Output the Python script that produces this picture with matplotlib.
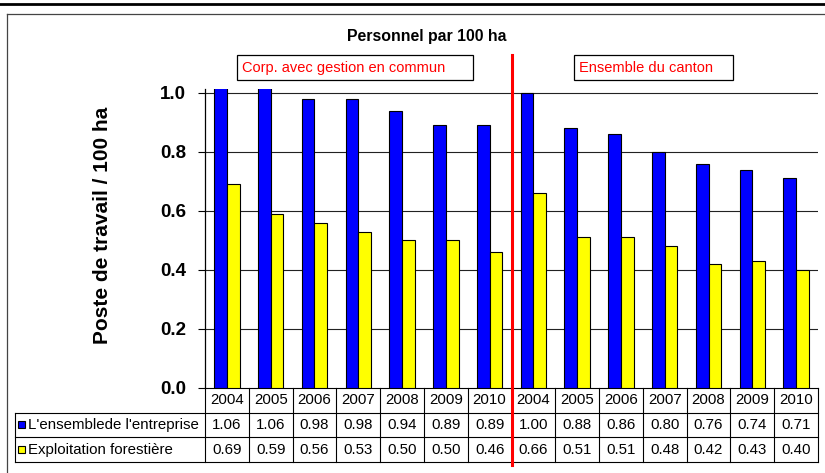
import matplotlib
matplotlib.use("Agg")
import matplotlib.pyplot as plt
from matplotlib.patches import Rectangle
from matplotlib.transforms import blended_transform_factory
from matplotlib.lines import Line2D

plt.rcParams["font.family"] = ["Liberation Sans", "DejaVu Sans"]

# Data
years = ["2004", "2005", "2006", "2007", "2008", "2009", "2010",
         "2004", "2005", "2006", "2007", "2008", "2009", "2010"]
entreprise = [1.06, 1.06, 0.98, 0.98, 0.94, 0.89, 0.89,
              1.00, 0.88, 0.86, 0.80, 0.76, 0.74, 0.71]
exploitation = [0.69, 0.59, 0.56, 0.53, 0.50, 0.50, 0.46,
                0.66, 0.51, 0.51, 0.48, 0.42, 0.43, 0.40]
series_names = ["L'ensemblede l'entreprise", "Exploitation forestière"]
series_colors = ["#0000ff", "#ffff00"]
group_labels = ["Corp. avec gestion en commun", "Ensemble du canton"]

W, H = 825, 473
fig = plt.figure(figsize=(W / 100, H / 100), dpi=100)


def fx(px):
    return px / W


def fy(py):
    return 1 - py / H


# axes area in pixels
ax_l, ax_r, ax_b, ax_t = 205, 818, 388, 89
ax = fig.add_axes([fx(ax_l), fy(ax_b), fx(ax_r - ax_l), (ax_b - ax_t) / H])

x = list(range(len(years)))
bw = 0.29
ax.bar([i - bw / 2 for i in x], entreprise, width=bw, color=series_colors[0],
       edgecolor="black", linewidth=0.8, zorder=3)
ax.bar([i + bw / 2 for i in x], exploitation, width=bw, color=series_colors[1],
       edgecolor="black", linewidth=0.8, zorder=3)

ax.set_xlim(-0.5, len(years) - 0.5)
ax.set_ylim(0, 1.013)
ax.set_yticks([0.0, 0.2, 0.4, 0.6, 0.8, 1.0])
ax.set_yticklabels([f"{v:.1f}" for v in [0.0, 0.2, 0.4, 0.6, 0.8, 1.0]],
                   fontsize=13.5, fontweight="bold")
ax.tick_params(axis="y", direction="out", length=5, width=0.8, pad=8.5)
ax.set_xticks([])
for s in ["top", "right", "bottom"]:
    ax.spines[s].set_visible(False)
ax.spines["left"].set_linewidth(0.9)
for v in [0.2, 0.4, 0.6, 0.8, 1.0]:
    ax.axhline(v, color="#222222", linewidth=0.8, zorder=1)

# Data table under the axes
ax_h = ax_b - ax_t
ax_w = ax_r - ax_l
row_h = 24.7 / ax_h
lab_left = (15 - ax_l) / ax_w
btf = blended_transform_factory(ax.transData, ax.transAxes)
lw = 0.8
tfs = 10.8
# horizontal lines
ax.add_line(Line2D([-0.5, len(years) - 0.5], [0, 0], transform=btf, color="black",
                   lw=lw, clip_on=False))
for k in [1, 2, 3]:
    ax.add_line(Line2D([lab_left, 1], [-k * row_h] * 2, transform=ax.transAxes,
                       color="black", lw=lw, clip_on=False))
# vertical lines
for i in range(len(years) + 1):
    ax.add_line(Line2D([i - 0.5, i - 0.5], [0, -3 * row_h], transform=btf,
                       color="black", lw=lw, clip_on=False))
ax.add_line(Line2D([lab_left, lab_left], [-row_h, -3 * row_h], transform=ax.transAxes,
                   color="black", lw=lw, clip_on=False))

for i, yr in enumerate(years):
    ax.text(i, -0.5 * row_h, yr, transform=btf, ha="center", va="center",
            fontsize=tfs, clip_on=False)
    ax.text(i, -1.5 * row_h, f"{entreprise[i]:.2f}", transform=btf, ha="center",
            va="center", fontsize=tfs, clip_on=False)
    ax.text(i, -2.5 * row_h, f"{exploitation[i]:.2f}", transform=btf, ha="center",
            va="center", fontsize=tfs, clip_on=False)

# row labels with colour keys
for k, (name, col) in enumerate(zip(series_names, series_colors)):
    yc = 412 + 24.7 * (k + 0.5)
    fig.patches.append(Rectangle((fx(18), fy(yc + 3.5)), fx(7), 7 / H,
                                 transform=fig.transFigure, facecolor=col,
                                 edgecolor="black", linewidth=0.8))
    fig.text(fx(28), fy(yc + 0.5), name, ha="left", va="center", fontsize=tfs)

# red separator line
ax.add_line(Line2D([6.5, 6.5], [(ax_b - 55) / ax_h, (ax_b - 465) / ax_h],
                   transform=btf, color="red", lw=2.2, clip_on=False, zorder=5))

# group annotation boxes
for (x0, x1), txt in zip([(237, 473), (574, 733)], group_labels):
    fig.patches.append(Rectangle((fx(x0), fy(80)), fx(x1 - x0), 25 / H,
                                 transform=fig.transFigure, facecolor="white",
                                 edgecolor="black", linewidth=0.9))
    fig.text(fx(x0 + 5), fy(68), txt, ha="left", va="center", fontsize=10.5,
             color="red")

# title and y label
fig.text(fx(427), fy(36), "Personnel par 100 ha", ha="center", va="center",
         fontsize=11.4, fontweight="bold")
fig.text(fx(102), fy(225), "Poste de travail / 100 ha", ha="center", va="center",
         rotation=90, fontsize=15, fontweight="bold")

# outer frame
fig.lines.append(Line2D([0, 1], [fy(4), fy(4)], transform=fig.transFigure,
                        color="black", lw=2.0))
fig.lines.append(Line2D([fx(7), 1], [fy(14.5), fy(14.5)], transform=fig.transFigure,
                        color="#444444", lw=0.9))
fig.lines.append(Line2D([fx(7), fx(7)], [fy(14.5), 0], transform=fig.transFigure,
                        color="#444444", lw=0.9))

fig.savefig("out.png", dpi=100)
plt.close(fig)
